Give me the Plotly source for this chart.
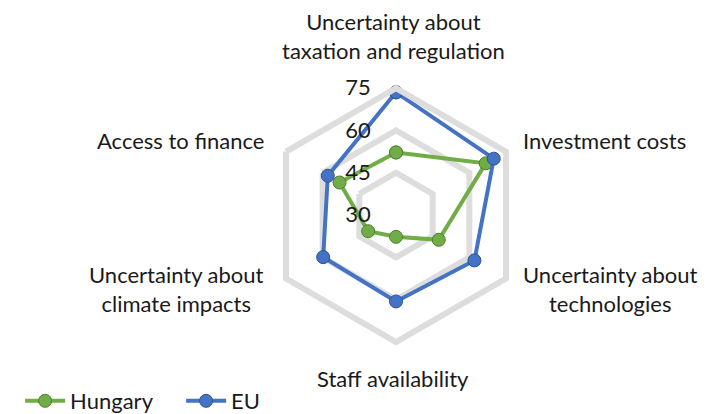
import plotly.graph_objects as go

# ── Data ─────────────────────────────────────────────────────────────────────
categories = [
    "Uncertainty about<br>taxation and regulation",
    "Investment costs",
    "Uncertainty about<br>technologies",
    "Staff availability",
    "Uncertainty about<br>climate impacts",
    "Access to finance",
]
hungary = [52.2, 66.7, 47.5, 37.7, 41.4, 53.1]
eu = [73.5, 70.0, 62.1, 60.6, 59.8, 57.9]
radial_ticks = [30, 45, 60, 75]

# ── Style tokens ─────────────────────────────────────────────────────────────
FONT = "Lato"
C_TEXT = "#1a1a1a"
C_GRID = "#DDDDDD"
C_GREEN, C_GREEN_EDGE = "#70AD47", "#507E32"
C_BLUE, C_BLUE_EDGE = "#4472C4", "#2F528F"
TXT = dict(family=FONT, size=22, color=C_TEXT, weight=400)

# category label placement (paper coords), Excel-like: text sits off each vertex
LABEL_POS = [
    (0.5408, 0.932, "center", "middle"),
    (0.7206, 0.6811, "left", "middle"),
    (0.8469, 0.3224, "center", "middle"),
    (0.5401, 0.1039, "center", "middle"),
    (0.2367, 0.3224, "center", "middle"),
    (0.3624, 0.6811, "right", "middle"),
]


def _closed(vals):
    return list(vals) + [vals[0]]


fig = go.Figure()
for name, vals, col, edge in [
    ("Hungary", hungary, C_GREEN, C_GREEN_EDGE),
    ("EU", eu, C_BLUE, C_BLUE_EDGE),
]:
    fig.add_trace(go.Scatterpolar(
        r=_closed(vals),
        theta=_closed(categories),
        mode="lines+markers",
        name=name,
        line=dict(color=col, width=4),
        marker=dict(size=13, color=col, line=dict(color=edge, width=1)),
    ))

# angular labels as centred multi-line annotations (plotly's own ticks can't centre them)
for cat, (ax_, ay_, xa, ya) in zip(categories, LABEL_POS):
    fig.add_annotation(
        text=cat, x=ax_, y=ay_, xref="paper", yref="paper",
        xanchor=xa, yanchor=ya, align="center", showarrow=False,
        font=TXT,
    )

fig.update_layout(
    width=712, height=414,
    margin=dict(l=0, r=0, t=0, b=0),
    paper_bgcolor="white",
    font=TXT,
    polar=dict(
        domain=dict(x=[0.3666, 0.7233], y=[0.193, 0.8065]),
        bgcolor="white",
        gridshape="linear",
        radialaxis=dict(
            range=[30, 75],
            tickvals=radial_ticks,
            angle=90,
            tickangle=90,
            side="counterclockwise",
            showline=False,
            ticks="outside",
            ticklen=17,
            tickcolor="rgba(0,0,0,0)",
            gridcolor=C_GRID,
            gridwidth=6,
            tickfont=TXT,
        ),
        angularaxis=dict(
            direction="clockwise",
            rotation=90,
            showgrid=False,
            showline=True,
            linecolor=C_GRID,
            linewidth=6,
            ticks="",
            showticklabels=False,
        ),
    ),
    showlegend=True,
    legend=dict(
        orientation="h",
        x=0.017, xanchor="left",
        y=0.0, yanchor="bottom",
        itemwidth=40,
        entrywidth=106,
        font=TXT,
        bgcolor="rgba(0,0,0,0)",
    ),
)

fig.write_html("out.html")
